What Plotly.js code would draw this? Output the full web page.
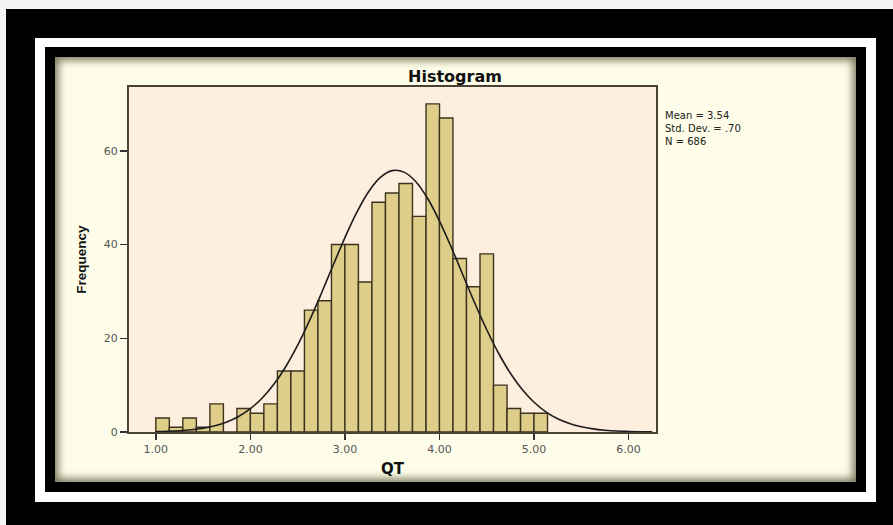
<!DOCTYPE html>
<html>
<head>
<meta charset="utf-8">
<script src="https://cdn.plot.ly/plotly-3.0.1.min.js"></script>
<style>
  html, body { margin:0; padding:0; width:893px; height:525px; overflow:hidden; background:#000; }
  .abs { position:absolute; }
  #topstrip { left:0; top:0; width:893px; height:9px; background:#f4f4f4; }
  #leftstrip { left:0; top:0; width:6px; height:525px; background:#f4f4f4; }
  #white { left:35px; top:38px; width:841px; height:464px; background:#fff; }
  #black { left:45px; top:47px; width:821px; height:445px; background:#000; }
  #cream { left:55px; top:57px; width:801px; height:425px; background:#fdfde9;
           box-shadow: inset 0 0 9px 3px rgba(70,70,40,0.75); }
  #chart { left:0; top:0; width:893px; height:525px; }
</style>
</head>
<body>
<div id="topstrip" class="abs"></div>
<div id="leftstrip" class="abs"></div>
<div id="white" class="abs"></div>
<div id="black" class="abs"></div>
<div id="cream" class="abs"></div>
<div id="chart" class="abs"></div>
<script>
// Histogram bins of QT (bin width 1/7), centres and counts
const binCenters = [1.071, 1.214, 1.357, 1.500, 1.643, 1.786, 1.929, 2.071, 2.214, 2.357,
                    2.500, 2.643, 2.786, 2.929, 3.071, 3.214, 3.357, 3.500, 3.643, 3.786,
                    3.929, 4.071, 4.214, 4.357, 4.500, 4.643, 4.786, 4.929, 5.071];
const binCounts  = [3, 1, 3, 1, 6, 0, 5, 4, 6, 13,
                    13, 26, 28, 40, 40, 32, 49, 51, 53, 46,
                    70, 67, 37, 31, 38, 10, 5, 4, 4];
const binWidth = 0.1429;

// Normal curve (Mean = 3.54, Std. Dev. = .70, N = 686)
const curveX = [1.000, 1.125, 1.250, 1.375, 1.500, 1.625, 1.750, 1.875, 2.000, 2.125,
                2.250, 2.375, 2.500, 2.625, 2.750, 2.875, 3.000, 3.125, 3.250, 3.375,
                3.500, 3.625, 3.750, 3.875, 4.000, 4.125, 4.250, 4.375, 4.500, 4.625,
                4.750, 4.875, 5.000, 5.125, 5.250, 5.375, 5.500, 5.625, 5.750, 5.875,
                6.000, 6.125, 6.250];
const curveY = [0.08, 0.15, 0.27, 0.47, 0.80, 1.32, 2.12, 3.30, 4.97, 7.24,
                10.22, 13.98, 18.52, 23.77, 29.54, 35.57, 41.48, 46.85, 51.26, 54.32,
                55.76, 55.44, 53.39, 49.81, 45.00, 39.39, 33.39, 27.42, 21.81, 16.80,
                12.54, 9.06, 6.34, 4.30, 2.82, 1.80, 1.11, 0.66, 0.38, 0.21,
                0.12, 0.06, 0.03];

const xTickVals = [1, 2, 3, 4, 5, 6];
const xTickText = ['1.00', '2.00', '3.00', '4.00', '5.00', '6.00'];
const yTickVals = [0, 20, 40, 60];
const statsLines = ['Mean = 3.54', 'Std. Dev. = .70', 'N = 686'];

const font = 'DejaVu Sans, Verdana, sans-serif';

const traces = [
  {
    type: 'bar', x: binCenters, y: binCounts, width: binWidth,
    marker: { color: '#dfce89', line: { color: '#3b3320', width: 1.4 } },
    hoverinfo: 'x+y', showlegend: false
  },
  {
    type: 'scatter', mode: 'lines', x: curveX, y: curveY,
    line: { color: '#1c1c1c', width: 1.6, shape: 'spline', smoothing: 1 },
    showlegend: false, hoverinfo: 'skip'
  }
];

const annotations = [{
  text: statsLines.join('<br>'), xref: 'paper', yref: 'paper', x: 1.013, y: 0.94,
  xanchor: 'left', yanchor: 'top', align: 'left', showarrow: false,
  font: { family: font, size: 10, color: '#222' }
}];

const layout = {
  width: 893, height: 525,
  paper_bgcolor: 'rgba(0,0,0,0)',
  plot_bgcolor: '#fdeedd',
  margin: { l: 129, r: 237, t: 87, b: 93, pad: 0 },
  bargap: 0,
  title: {
    text: '<b>Histogram</b>', x: 455 / 893, xanchor: 'center',
    y: 1 - 76 / 525, yanchor: 'middle', xref: 'container', yref: 'container',
    font: { family: font, size: 16, color: '#111' }
  },
  xaxis: {
    range: [0.716, 6.29], tickvals: xTickVals, ticktext: xTickText,
    showline: true, mirror: true, linecolor: '#4a4333', linewidth: 2,
    ticks: 'outside', ticklen: 6, tickwidth: 1.5, tickcolor: '#333',
    showgrid: false, zeroline: false, automargin: false,
    tickfont: { family: font, size: 11, color: '#555' },
    title: { text: '<b>QT</b>', standoff: 8, font: { family: font, size: 15, color: '#111' } }
  },
  yaxis: {
    range: [0, 73.6], tickvals: yTickVals,
    showline: true, mirror: true, linecolor: '#4a4333', linewidth: 2,
    ticks: 'outside', ticklen: 7, tickwidth: 1.5, tickcolor: '#333',
    showgrid: false, zeroline: false, automargin: false,
    tickfont: { family: font, size: 11, color: '#555' },
    title: { text: '<b>Frequency</b>', standoff: 14, font: { family: 'Liberation Sans, Arial, sans-serif', size: 13.5, color: '#111' } }
  },
  annotations: annotations
};

Plotly.newPlot('chart', traces, layout, { displayModeBar: false, staticPlot: true });
</script>
</body>
</html>
